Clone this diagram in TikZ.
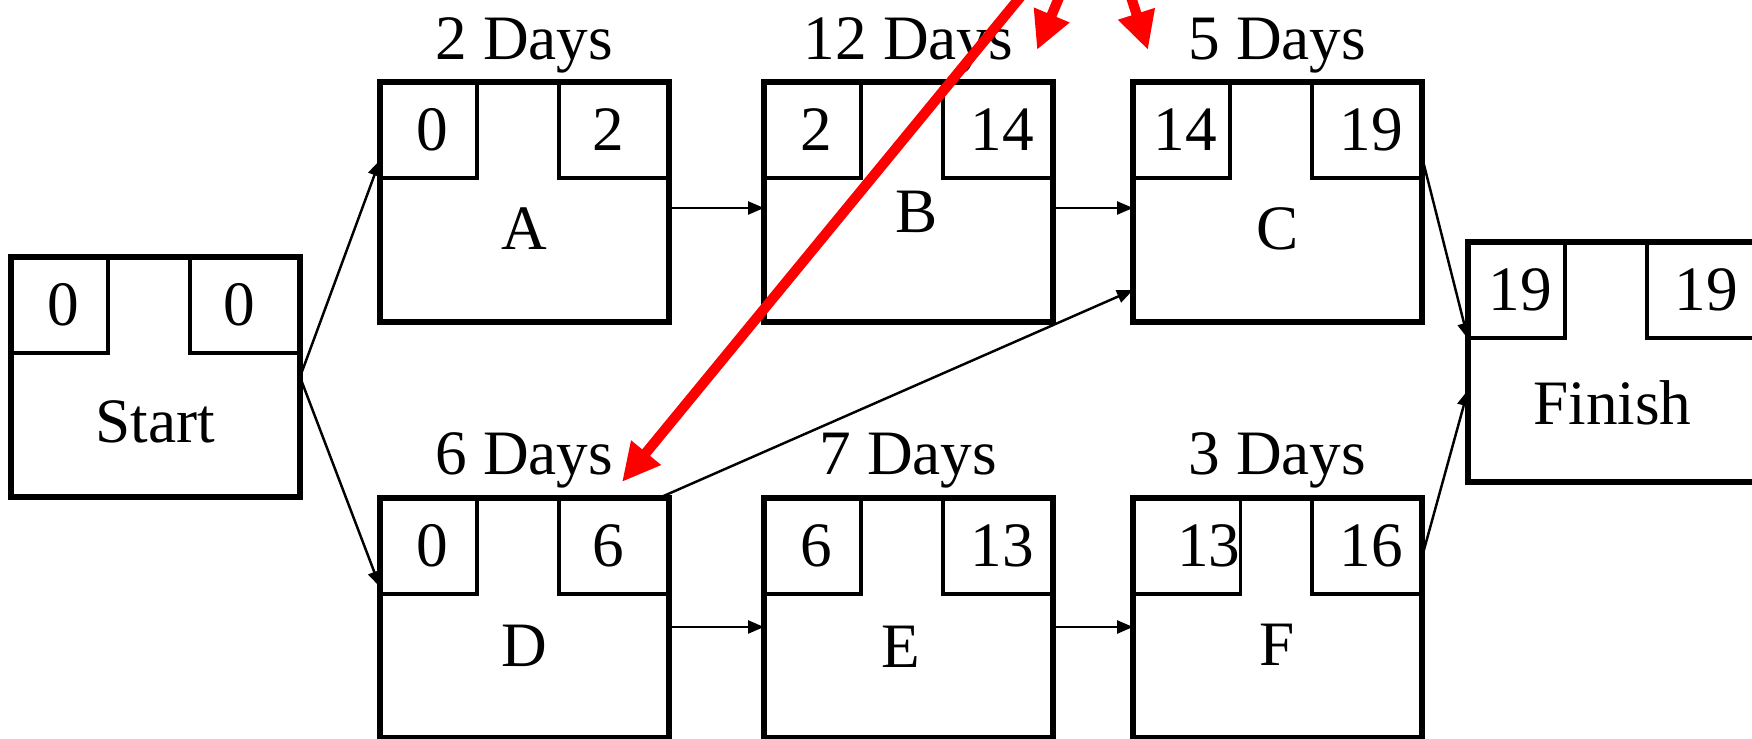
\documentclass[tikz,border=0pt]{standalone}
\usepackage{fontspec}
\setmainfont{Liberation Serif}
\usetikzlibrary{arrows.meta}

\tikzset{
  attivita/.style={draw, line width=1.8pt, minimum width=2.89cm, minimum height=2.4cm,
    inner sep=0pt, outer sep=0pt, anchor=north west},
  inizio/.style={draw, line width=1.0pt, minimum width=0.97cm, minimum height=0.96cm,
    inner sep=0pt, outer sep=0pt, anchor=north west, sposta=0.08cm},
  fine/.style={draw, line width=1.0pt, minimum width=1.1cm, minimum height=0.96cm,
    inner sep=0pt, outer sep=0pt, anchor=north east, sposta=-0.12cm},
  sposta/.style={execute at begin node={\hspace*{#1}}},
  durata/.style={anchor=base, inner sep=0pt},
  nome/.style={anchor=base, inner sep=0pt},
  freccia/.style={-{Triangle[length=0.16cm,width=0.13cm]}, line width=0.7pt},
  rossa/.style={-{Triangle[length=0.38cm,width=0.36cm]}, line width=2.9pt, red}
}

\begin{document}
\begin{tikzpicture}[font=\fontsize{18}{22}\selectfont]

\path[use as bounding box, clip] (0,0) rectangle (17.52,7.39);

% Start
\node[attivita] (Start) at (0.11,4.82) {};
\node[inizio] (Start-es) at (Start.north west) {0};
\node[fine] (Start-ef) at (Start.north east) {0};
\node[nome] (Start-nome) at ([yshift=-1.86cm]Start.north) {Start};

% Attivita A
\node[attivita] (A) at (3.80,6.57) {};
\node[inizio] (A-es) at (A.north west) {0};
\node[fine] (A-ef) at (A.north east) {2};
\node[nome] (A-nome) at ([yshift=-1.68cm]A.north) {A};
\node[durata] (A-durata) at ([yshift=0.22cm]A.north) {2 Days};

% Attivita B
\node[attivita] (B) at (7.64,6.57) {};
\node[inizio] (B-es) at (B.north west) {2};
\node[fine, sposta=0.2cm] (B-ef) at (B.north east) {14};
\node[nome] (B-nome) at ([xshift=0.08cm, yshift=-1.51cm]B.north) {B};
\node[durata] (B-durata) at ([yshift=0.22cm]B.north) {12 Days};

% Attivita C
\node[attivita] (C) at (11.33,6.57) {};
\node[inizio] (C-es) at (C.north west) {14};
\node[fine, sposta=0.2cm] (C-ef) at (C.north east) {19};
\node[nome] (C-nome) at ([yshift=-1.68cm]C.north) {C};
\node[durata] (C-durata) at ([yshift=0.22cm]C.north) {5 Days};

% Attivita D
\node[attivita] (D) at (3.80,2.41) {};
\node[inizio] (D-es) at (D.north west) {0};
\node[fine] (D-ef) at (D.north east) {6};
\node[nome] (D-nome) at ([yshift=-1.69cm]D.north) {D};
\node[durata] (D-durata) at ([yshift=0.23cm]D.north) {6 Days};

% Attivita E
\node[attivita] (E) at (7.64,2.41) {};
\node[inizio] (E-es) at (E.north west) {6};
\node[fine, sposta=0.2cm] (E-ef) at (E.north east) {13};
\node[nome] (E-nome) at ([xshift=-0.08cm, yshift=-1.70cm]E.north) {E};
\node[durata] (E-durata) at ([yshift=0.23cm]E.north) {7 Days};

% Attivita F
\node[attivita] (F) at (11.33,2.41) {};
\node[inizio, sposta=0.36cm] (F-es) at (F.north west) {13};
\node[fine, sposta=0.2cm] (F-ef) at (F.north east) {16};
\node[nome] (F-nome) at ([yshift=-1.68cm]F.north) {F};
\node[durata] (F-durata) at ([yshift=0.23cm]F.north) {3 Days};

% Finish
\node[attivita] (Finish) at (14.68,4.97) {};
\node[inizio] (Finish-es) at (Finish.north west) {19};
\node[fine, sposta=0.2cm] (Finish-ef) at (Finish.north east) {19};
\node[nome] (Finish-nome) at ([yshift=-1.83cm]Finish.north) {Finish};

% Collegamenti
\draw[freccia] (Start.east) -- ([yshift=-0.78cm]A.north west);
\draw[freccia] (Start.east) -- ([yshift=-0.89cm]D.north west);
\draw[freccia] ([yshift=-0.06cm]A.east) -- ([yshift=-0.06cm]B.west);
\draw[freccia] ([yshift=-0.06cm]B.east) -- ([yshift=-0.06cm]C.west);
\draw[freccia] ([yshift=-0.09cm]D.east) -- ([yshift=-0.09cm]E.west);
\draw[freccia] ([yshift=-0.09cm]E.east) -- ([yshift=-0.09cm]F.west);
\draw[freccia] ([xshift=-0.1cm]D.north east) -- ([yshift=0.32cm]C.south west);
\draw[freccia] ([yshift=-0.75cm]C.north east) -- ([yshift=-0.97cm]Finish.north west);
\draw[freccia] ([yshift=-0.59cm]F.north east) -- ([yshift=-1.48cm]Finish.north west);

% Frecce rosse
\coordinate (sorgente) at (11.0,8.39);
\coordinate (punta-D) at (6.22,2.57);
\coordinate (punta-B) at (10.37,6.89);
\coordinate (punta-C) at (11.48,6.89);
\draw[rossa] (sorgente) -- (punta-D);
\draw[rossa] (sorgente) -- (punta-B);
\draw[rossa] (sorgente) -- (punta-C);

\end{tikzpicture}
\end{document}
